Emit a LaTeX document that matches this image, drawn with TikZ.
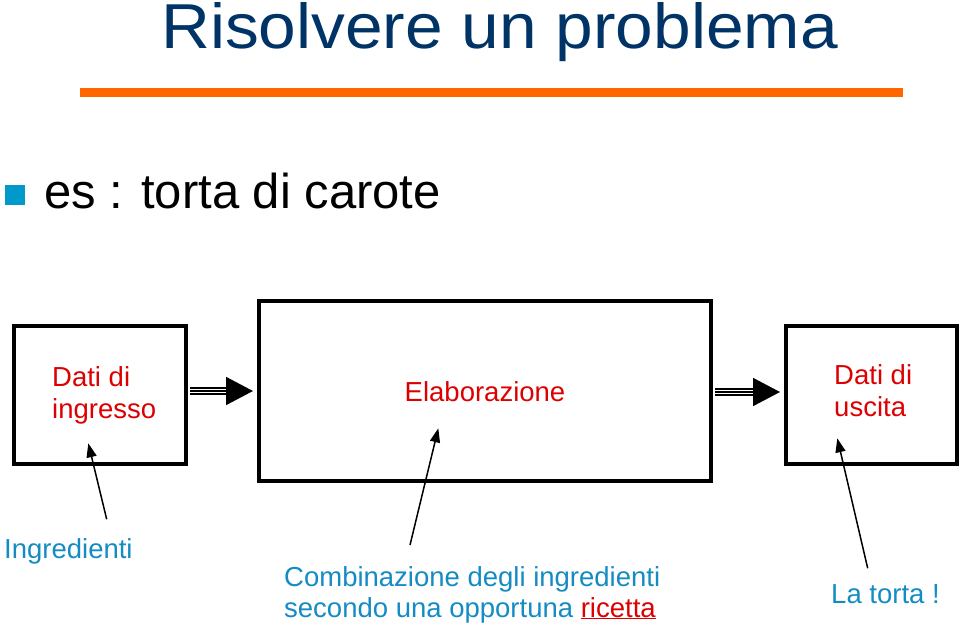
\documentclass[tikz,border=0pt]{standalone}
\usepackage{fontspec}
\usepackage{graphicx}
\setmainfont{Liberation Sans}
\usetikzlibrary{arrows.meta}
\definecolor{titleblue}{RGB}{0,51,102}
\definecolor{rulesorange}{RGB}{255,102,0}
\definecolor{bulletblue}{RGB}{0,153,204}
\definecolor{labelblue}{RGB}{20,140,195}
\definecolor{boxred}{RGB}{220,0,0}
\tikzset{
  box/.style={draw=black, line width=4pt, minimum width=#1, inner sep=0pt},
  boxtext/.style={text=boxred, font=\fontsize{27.5}{32}\selectfont, anchor=base west, inner sep=0pt, align=left},
  labeltext/.style={text=labelblue, font=\fontsize{27.5}{31}\selectfont, anchor=base west, inner sep=0pt, align=left},
  triple/.style={line width=1.7pt, double distance=4.9pt, draw=black, double=white, shorten >=26pt},
  tripmid/.style={line width=1.7pt, -{Triangle[length=27pt,width=28pt]}},
  pointer/.style={line width=1.5pt, -{Triangle[length=14pt,width=10pt]}}
}
\begin{document}
\begin{tikzpicture}[x=1pt,y=-1pt]
\useasboundingbox (0,0) rectangle (960,629);
% title
\node[anchor=base west, inner sep=0pt, text=titleblue, font=\fontsize{63.5}{70}\selectfont] (title) at (161,48.5) {\scalebox{1.065}[1]{Risolvere un problema}};
\fill[rulesorange] (80,88) rectangle (903,97);
% bullet
\fill[bulletblue] (5,185) rectangle (25,205);
\node[anchor=base west, inner sep=0pt, font=\fontsize{49}{52}\selectfont] (es) at (44,208) {es : torta di carote};
% boxes
\node[box=172pt, minimum height=138pt] (b1) at (100,395) {};
\node[box=452pt, minimum height=180pt] (b2) at (485,391) {};
\node[box=171pt, minimum height=138pt] (b3) at (871.5,395) {};
\node[boxtext] (t1) at (52,418) {Dati di\\ingresso};
\node[boxtext, anchor=base] (t2) at (485,401) {Elaborazione};
\node[boxtext] (t3) at (834,416) {Dati di\\uscita};
% triple arrows
\coordinate (a1s) at ([xshift=2pt]b1.east |- b2.west);
\coordinate (a1e) at ([xshift=-4pt]b2.west);
\coordinate (a2s) at ([xshift=2pt,yshift=-1pt]b2.east);
\coordinate (a2t) at (b3.west |- a2s);
\coordinate (a2e) at ([xshift=-4pt]a2t);
\draw[triple] (a1s) -- (a1e);
\draw[tripmid] (a1s) -- (a1e);
\draw[triple] (a2s) -- (a2e);
\draw[tripmid] (a2s) -- (a2e);
% labels
\node[labeltext] (l1) at (4,558) {Ingredienti};
\node[labeltext] (l2) at (284,617) {Combinazione degli ingredienti\\secondo una opportuna \textcolor{boxred}{\underline{ricetta}}};
\node[labeltext] (l3) at (831,603) {La torta !};
% pointers
\coordinate (p1s) at (106.7,519.3);
\coordinate (p1e) at (88.3,443.3);
\coordinate (p2s) at (410,545);
\coordinate (p2e) at (438.3,428.3);
\coordinate (p3s) at (867.7,568.3);
\coordinate (p3e) at (837.3,438.3);
\draw[pointer] (p1s) -- (p1e);
\draw[pointer] (p2s) -- (p2e);
\draw[pointer] (p3s) -- (p3e);
\end{tikzpicture}
\end{document}
